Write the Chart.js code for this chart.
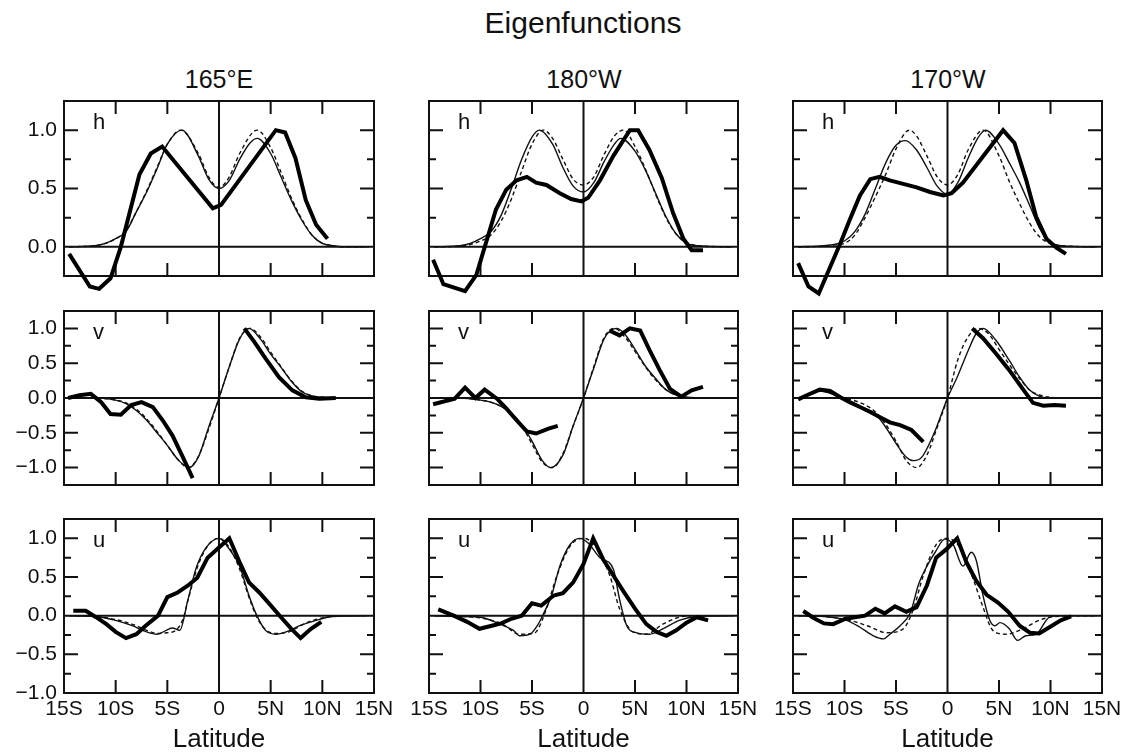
<!DOCTYPE html>
<html>
<head>
<meta charset="utf-8">
<script src="https://cdn.jsdelivr.net/npm/chart.js@4"></script>
<style>
body { margin: 0; background: #fff; width: 1123px; height: 752px; overflow: hidden; position: relative; font-family: "Liberation Sans", Arial, sans-serif; }
canvas { position: absolute; }
.txt { position: absolute; text-align: center; line-height: 1; color: #111; white-space: nowrap; }
</style>
</head>
<body>
<div class="txt" style="left:383px; width:400px; top:8px; font-size:30px;">Eigenfunctions</div>
<div class="txt" style="left:119px; width:200px; top:67px; font-size:25px;">165°E</div>
<div class="txt" style="left:484px; width:200px; top:67px; font-size:25px;">180°W</div>
<div class="txt" style="left:848px; width:200px; top:67px; font-size:25px;">170°W</div>
<script>
// graduations
const xTicks = [-15, -10, -5, 0, 5, 10, 15];
const hTicks = [0, 0.5, 1];
const vuTicks = [-1, -0.5, 0, 0.5, 1];

// h, 165°E
const h165ObsLat = [-14.5, -12.5, -11.6, -10.5, -9.5, -7.7, -6.6, -5.5, -0.6, 0.2, 5.5, 6.4, 7.4, 8.4, 9.4, 10.5];
const h165Obs = [-0.06, -0.34, -0.36, -0.27, 0.0, 0.62, 0.80, 0.86, 0.33, 0.36, 1.0, 0.98, 0.76, 0.40, 0.19, 0.07];
const h165ModLat = [-14.5, -12, -11, -10, -9, -8, -7, -6, -5, -3.6, -2, -1, 0, 1, 2, 3, 3.7, 5, 6, 7, 8, 9, 10, 11, 12, 14.5];
const h165Mod = [0, 0.01, 0.03, 0.07, 0.13, 0.30, 0.47, 0.67, 0.88, 1.0, 0.78, 0.58, 0.50, 0.57, 0.75, 0.89, 0.93, 0.80, 0.60, 0.40, 0.23, 0.10, 0.03, 0.01, 0, 0];
const h165ThyLat = [-14.5, -12, -11, -10, -9, -8, -7, -6, -5, -3.7, -2, -1, 0, 1, 2, 3.7, 5, 6, 7, 8, 9, 10, 11, 12, 14.5];
const h165Thy = [0, 0.01, 0.03, 0.07, 0.14, 0.30, 0.48, 0.68, 0.88, 1.0, 0.80, 0.60, 0.51, 0.60, 0.80, 1.0, 0.85, 0.64, 0.42, 0.24, 0.10, 0.03, 0.01, 0, 0];

// h, 180°W
const h180ObsLat = [-14.6, -13.6, -11.5, -10.4, -8.5, -7.5, -6.5, -5.5, -4.6, -3.6, -2.3, -1.2, -0.2, 0.45, 1.6, 2.9, 4.5, 5.3, 6.4, 7.6, 8.7, 9.7, 10.5, 11.6];
const h180Obs = [-0.11, -0.32, -0.38, -0.24, 0.32, 0.49, 0.57, 0.60, 0.55, 0.53, 0.46, 0.41, 0.39, 0.42, 0.57, 0.78, 1.0, 1.0, 0.83, 0.59, 0.29, 0.07, -0.03, -0.03];
const h180ModLat = [-14.5, -12, -11, -10, -9, -8, -7, -6, -5, -4.3, -3, -2, -1, 0, 1, 2, 3, 3.6, 5, 6, 7, 8, 9, 10, 11, 14.5];
const h180Mod = [0, 0.01, 0.03, 0.07, 0.13, 0.27, 0.50, 0.75, 0.94, 1.0, 0.88, 0.68, 0.52, 0.47, 0.55, 0.73, 0.88, 0.93, 0.82, 0.66, 0.46, 0.26, 0.11, 0.03, 0.01, 0];
const h180ThyLat = [-14.5, -12, -11, -10, -9, -8, -7, -6, -5, -3.9, -3, -2, -1, 0, 1, 2, 3, 3.9, 5, 6, 7, 8, 9, 10, 11, 14.5];
const h180Thy = [0, 0.005, 0.02, 0.05, 0.10, 0.22, 0.41, 0.65, 0.88, 1.0, 0.93, 0.75, 0.58, 0.53, 0.60, 0.79, 0.95, 1.0, 0.86, 0.67, 0.45, 0.25, 0.11, 0.04, 0.01, 0];

// h, 170°W
const h170ObsLat = [-14.5, -13.5, -12.5, -10.4, -9.5, -8.5, -7.5, -6.6, -5.6, -4.3, -3, -1.7, -0.4, 0.4, 1.5, 3.5, 5.4, 6.5, 7.65, 8.6, 9.6, 10.6, 11.5];
const h170Obs = [-0.14, -0.34, -0.40, 0.03, 0.23, 0.44, 0.58, 0.60, 0.57, 0.54, 0.51, 0.47, 0.44, 0.46, 0.55, 0.78, 1.0, 0.89, 0.57, 0.26, 0.07, -0.01, -0.06];
const h170ModLat = [-14.5, -12, -11, -10, -9, -8, -7, -6, -5, -4.1, -3, -2, -1, 0, 1, 2, 3, 3.7, 5, 6, 7, 8, 9, 10, 11, 14.5];
const h170Mod = [0, 0.01, 0.02, 0.05, 0.13, 0.28, 0.50, 0.72, 0.87, 0.91, 0.83, 0.68, 0.52, 0.45, 0.55, 0.76, 0.94, 1.0, 0.88, 0.72, 0.55, 0.35, 0.15, 0.04, 0.01, 0];
const h170ThyLat = [-14.5, -12, -11, -10, -9, -8, -7, -6, -5, -3.7, -3, -2, -1, 0, 1, 2, 3.45, 5, 6, 7, 8, 9, 10, 11, 14.5];
const h170Thy = [0, 0.005, 0.015, 0.03, 0.10, 0.25, 0.43, 0.62, 0.84, 1.0, 0.95, 0.78, 0.60, 0.53, 0.62, 0.83, 1.0, 0.78, 0.56, 0.37, 0.20, 0.08, 0.03, 0.01, 0];

// v, 165°E
const v165ObsLat = [-14.6, -13.5, -12.4, -11.4, -10.5, -9.5, -8.5, -7.5, -6.4, -5.45, -4.5, -3.5, -2.55, 0, 2.45, 3.4, 4.5, 5.8, 7.1, 8.4, 9.7, 11.3];
const v165Obs = [0, 0.04, 0.06, -0.06, -0.23, -0.24, -0.10, -0.06, -0.13, -0.32, -0.54, -0.85, -1.15, null, 1.0, 0.81, 0.57, 0.30, 0.11, 0.01, -0.01, 0];
const v165ModLat = [-14.5, -11.6, -10, -9, -8, -7, -6, -5, -4, -2.9, -2, -1, 0, 1, 2, 2.9, 4, 5, 6, 7, 8, 9, 10, 12, 14.5];
const v165Mod = [0, 0, -0.03, -0.08, -0.18, -0.32, -0.50, -0.68, -0.88, -1.0, -0.85, -0.42, 0, 0.45, 0.85, 1.0, 0.85, 0.63, 0.44, 0.24, 0.09, 0.03, 0.01, 0, 0];
const v165ThyLat = [-14.5, -12, -10, -9, -8, -7, -6, -5, -4, -3, -2, -1, 0, 1, 2, 3, 4, 5, 6, 7, 8, 9, 10, 12, 14.5];
const v165Thy = [0, 0, -0.03, -0.07, -0.16, -0.30, -0.48, -0.68, -0.88, -1.0, -0.84, -0.45, 0, 0.45, 0.86, 1.0, 0.88, 0.66, 0.45, 0.25, 0.10, 0.03, 0.01, 0, 0];

// v, 180°W
const v180ObsLat = [-14.6, -12.5, -11.5, -10.5, -9.6, -8.4, -7.5, -6.5, -5.5, -4.6, -3.4, -2.5, 0, 2.5, 3.5, 4.5, 5.5, 6.4, 7.4, 8.4, 9.5, 10.5, 11.6];
const v180Obs = [-0.09, -0.01, 0.15, 0, 0.12, -0.01, -0.15, -0.32, -0.48, -0.51, -0.44, -0.40, null, 0.97, 0.90, 1.0, 0.97, 0.69, 0.40, 0.13, 0.02, 0.11, 0.16];
const v180ModLat = [-14.5, -12, -10, -9, -8, -7, -6, -5, -4, -3.2, -2, -1, 0, 1, 2, 3.2, 4, 5, 6, 7, 8, 9, 10, 12, 14.5];
const v180Mod = [0, 0, -0.03, -0.06, -0.12, -0.22, -0.38, -0.62, -0.90, -1.0, -0.82, -0.40, 0, 0.43, 0.85, 1.0, 0.92, 0.70, 0.46, 0.28, 0.12, 0.04, 0.01, 0, 0];
const v180ThyLat = [-14.5, -12, -10, -9, -8, -7, -6, -5, -4, -3, -2, -1, 0, 1, 2, 3, 4, 5, 6, 7, 8, 9, 10, 12, 14.5];
const v180Thy = [0, 0, -0.03, -0.06, -0.12, -0.22, -0.40, -0.66, -0.92, -1.0, -0.80, -0.40, 0, 0.45, 0.87, 1.0, 0.88, 0.67, 0.45, 0.26, 0.12, 0.04, 0.01, 0, 0];

// v, 170°W
const v170ObsLat = [-14.5, -13.5, -12.4, -11.4, -10.4, -9.5, -8.5, -7.5, -6.5, -5.6, -4.6, -3.5, -2.35, 0, 2.4, 3.45, 4.7, 6.0, 7.3, 8.3, 9.3, 10.4, 11.5];
const v170Obs = [-0.02, 0.05, 0.12, 0.10, 0.01, -0.06, -0.13, -0.20, -0.28, -0.35, -0.39, -0.46, -0.63, null, 1.0, 0.86, 0.64, 0.40, 0.13, -0.07, -0.11, -0.10, -0.11];
const v170ModLat = [-14.5, -12.4, -10.4, -8.5, -7, -6, -5, -4, -3.3, -2.5, -1.2, 0, 1, 2, 2.8, 3.45, 4.7, 6, 7, 8, 9, 10, 14.5];
const v170Mod = [0, 0.10, 0.01, -0.12, -0.23, -0.42, -0.65, -0.85, -0.90, -0.85, -0.47, 0, 0.32, 0.68, 0.93, 1.0, 0.83, 0.54, 0.30, 0.11, 0.02, 0, 0];
const v170ThyLat = [-14.5, -12, -10, -9, -8, -7, -6, -5, -4, -3, -2, -1, 0, 1, 2, 3, 4, 5, 6, 7, 8, 9, 10, 12, 14.5];
const v170Thy = [0, 0, -0.01, -0.04, -0.10, -0.20, -0.38, -0.62, -0.90, -1.0, -0.82, -0.42, 0, 0.55, 0.88, 1.0, 0.92, 0.70, 0.48, 0.28, 0.11, 0.04, 0.01, 0, 0];

// u, 165°E
const u165ObsLat = [-14.1, -12.9, -11.9, -10.9, -10, -9, -8, -7.1, -5.9, -5, -4, -3, -2.1, -1.1, 0, 1, 2, 2.9, 3.9, 4.9, 6, 7, 7.9, 8.9, 9.9];
const u165Obs = [0.064, 0.064, -0.02, -0.11, -0.21, -0.29, -0.24, -0.13, 0, 0.24, 0.30, 0.39, 0.49, 0.75, 0.88, 1.0, 0.69, 0.43, 0.30, 0.15, -0.02, -0.17, -0.29, -0.17, -0.08];
const u165ModLat = [-14.5, -12, -10, -8.4, -7, -6, -5.1, -4.5, -3.8, -3, -2.2, -1.25, 0, 1, 2, 2.9, 3.6, 4.5, 5.5, 6.5, 7.8, 9.4, 11, 14.5];
const u165Mod = [0, -0.01, -0.06, -0.13, -0.21, -0.24, -0.19, -0.16, -0.19, 0.21, 0.62, 0.88, 1.0, 0.86, 0.64, 0.26, 0.02, -0.19, -0.24, -0.21, -0.13, -0.06, -0.01, 0];
const u165ThyLat = [-14.5, -12, -10, -8, -7, -6, -5, -4.3, -3.5, -3, -2, -1, 0, 1, 2, 3, 3.7, 4.5, 5.5, 6.5, 7.5, 8.5, 10, 12, 14.5];
const u165Thy = [0, -0.01, -0.05, -0.13, -0.19, -0.23, -0.22, -0.20, -0.05, 0.20, 0.66, 0.92, 1.0, 0.88, 0.60, 0.20, -0.03, -0.18, -0.23, -0.22, -0.16, -0.09, -0.03, 0, 0];

// u, 180°W
const u180ObsLat = [-14.1, -12.6, -11.3, -10.1, -8.9, -8, -7, -6, -5, -4.1, -2.9, -2, -1, 0, 0.94, 1.9, 2.9, 3.85, 5, 6.1, 7.1, 8.05, 9, 10, 11, 12.1];
const u180Obs = [0.08, 0, -0.08, -0.17, -0.13, -0.10, -0.04, 0, 0.16, 0.13, 0.26, 0.29, 0.43, 0.67, 1.0, 0.73, 0.52, 0.32, 0.09, -0.11, -0.21, -0.26, -0.19, -0.09, -0.02, -0.06];
const u180ModLat = [-14.5, -12, -10, -8.1, -6.8, -6.2, -5.2, -4.4, -3.9, -3.1, -2.3, -1.3, -0.36, 0.45, 1.6, 2.9, 3.5, 4.2, 5.1, 6.4, 7.7, 9.3, 11, 14.5];
const u180Mod = [0, -0.01, -0.02, -0.11, -0.19, -0.26, -0.24, -0.11, 0.02, 0.26, 0.64, 0.92, 1.0, 0.94, 0.75, 0.60, 0.21, -0.13, -0.22, -0.24, -0.17, -0.06, -0.01, 0];
const u180ThyLat = [-14.5, -12, -10, -8, -6.2, -5, -4.6, -3.6, -2.6, -1.3, 0, 1.26, 2.55, 3.5, 4.8, 6.1, 7.7, 9.3, 11, 14.5];
const u180Thy = [0, -0.01, -0.03, -0.10, -0.24, -0.23, -0.21, 0.09, 0.51, 0.90, 1.0, 0.88, 0.52, 0.09, -0.21, -0.24, -0.11, -0.02, 0, 0];

// u, 170°W
const u170ObsLat = [-14, -13, -12, -11.1, -9.9, -9, -8, -7, -6.1, -5.1, -4, -3, -2, -1.1, -0.1, 0.94, 1.84, 2.8, 3.8, 4.9, 5.9, 7, 8, 8.9, 9.9, 11, 12];
const u170Obs = [0.06, -0.03, -0.10, -0.11, -0.04, -0.02, 0, 0.09, 0.03, 0.12, 0.05, 0.11, 0.39, 0.75, 0.86, 1.0, 0.69, 0.45, 0.27, 0.17, 0.05, -0.13, -0.22, -0.23, -0.15, -0.06, -0.01];
const u170ModLat = [-14.5, -12, -9.8, -8.5, -7.2, -6.2, -5.6, -4.6, -3.6, -2.8, -2, -1.2, -0.26, 0.55, 1.5, 2.3, 2.8, 3.45, 4.1, 4.6, 5.1, 6, 6.8, 7.6, 8.6, 9.9, 11, 14.5];
const u170Mod = [0, -0.01, -0.06, -0.15, -0.26, -0.30, -0.24, -0.13, 0.04, 0.41, 0.64, 0.82, 0.99, 0.92, 0.64, 0.82, 0.71, 0.26, -0.06, -0.13, -0.09, -0.17, -0.32, -0.26, -0.24, -0.02, 0, 0];
const u170ThyLat = [-14.5, -12, -9.5, -7.8, -5.9, -4.3, -3.3, -2.35, -1.1, 0, 1.2, 2.5, 3.45, 4.4, 5.7, 7.3, 8.9, 10.5, 14.5];
const u170Thy = [0, -0.01, -0.06, -0.13, -0.22, -0.17, 0.09, 0.52, 0.92, 1.0, 0.88, 0.47, 0.11, -0.19, -0.24, -0.17, -0.06, -0.01, 0];

// mise en page des panneaux
const colLeft = [64, 429, 793];
const colWidth = [310, 309, 309];
const rowTop = [101, 311, 519];
const rowHeight = [175, 174, 174];
const margeDroite = 30;
const rows = [
	{ lettre: "h", min: -0.25, max: 1.25, ticks: hTicks },
	{ lettre: "v", min: -1.25, max: 1.25, ticks: vuTicks },
	{ lettre: "u", min: -1, max: 1.25, ticks: vuTicks },
];
const panneaux = [
	[[h165ObsLat, h165Obs], [h165ModLat, h165Mod], [h165ThyLat, h165Thy]],
	[[h180ObsLat, h180Obs], [h180ModLat, h180Mod], [h180ThyLat, h180Thy]],
	[[h170ObsLat, h170Obs], [h170ModLat, h170Mod], [h170ThyLat, h170Thy]],
	[[v165ObsLat, v165Obs], [v165ModLat, v165Mod], [v165ThyLat, v165Thy]],
	[[v180ObsLat, v180Obs], [v180ModLat, v180Mod], [v180ThyLat, v180Thy]],
	[[v170ObsLat, v170Obs], [v170ModLat, v170Mod], [v170ThyLat, v170Thy]],
	[[u165ObsLat, u165Obs], [u165ModLat, u165Mod], [u165ThyLat, u165Thy]],
	[[u180ObsLat, u180Obs], [u180ModLat, u180Mod], [u180ThyLat, u180Thy]],
	[[u170ObsLat, u170Obs], [u170ModLat, u170Mod], [u170ThyLat, u170Thy]],
];

function points(lat, val) {
	return lat.map((x, i) => ({ x: x, y: val[i] }));
}

function texteLat(v) {
	if (v === 0) return "0";
	return Math.abs(v) + (v < 0 ? "S" : "N");
}

function texteVal(v) {
	return (v < 0 ? "\u2212" : "") + Math.abs(v).toFixed(1);
}

// cadre, lignes du zéro, graduations intérieures et lettre du panneau
const cadre = {
	id: "cadre",
	beforeDatasetsDraw(chart, args, opts) {
		const { ctx, chartArea: a, scales: { x, y } } = chart;
		ctx.save();
		ctx.strokeStyle = "#111";
		ctx.lineWidth = 2;
		ctx.strokeRect(a.left, a.top, a.right - a.left, a.bottom - a.top);
		const x0 = x.getPixelForValue(0);
		const y0 = y.getPixelForValue(0);
		ctx.beginPath();
		ctx.moveTo(a.left, y0);
		ctx.lineTo(a.right, y0);
		ctx.moveTo(x0, a.top);
		ctx.lineTo(x0, a.bottom);
		for (const v of [-10, -5, 5, 10]) {
			const px = x.getPixelForValue(v);
			ctx.moveTo(px, a.top);
			ctx.lineTo(px, a.top + 13);
			ctx.moveTo(px, a.bottom);
			ctx.lineTo(px, a.bottom - 13);
		}
		for (let v = y.min + 0.25; v < y.max; v += 0.25) {
			if (v === 0) continue;
			const py = y.getPixelForValue(v);
			const len = (v * 2) % 1 === 0 ? 14 : 7;
			ctx.moveTo(a.left, py);
			ctx.lineTo(a.left + len, py);
			ctx.moveTo(a.right, py);
			ctx.lineTo(a.right - len, py);
		}
		ctx.stroke();
		ctx.fillStyle = "#111";
		ctx.font = "22px 'Liberation Sans'";
		ctx.fillText(opts.lettre, a.left + 29, a.top + 28);
		ctx.restore();
	}
};

panneaux.forEach(function (series, n) {
	const r = Math.floor(n / 3);
	const c = n % 3;
	const row = rows[r];
	const bas = r === 2;
	const canvas = document.createElement("canvas");
	canvas.width = 64 + colWidth[c] + margeDroite;
	canvas.height = 12 + rowHeight[r] + 62;
	canvas.style.left = (colLeft[c] - 64) + "px";
	canvas.style.top = (rowTop[r] - 12) + "px";
	document.body.appendChild(canvas);

	const [obs, mod, thy] = series;
	new Chart(canvas, {
		type: "line",
		data: {
			datasets: [
				{ data: points(obs[0], obs[1]), borderColor: "#000", borderWidth: 4, tension: 0, spanGaps: false, clip: false },
				{ data: points(mod[0], mod[1]), borderColor: "#111", borderWidth: 1.4, cubicInterpolationMode: "monotone", clip: false },
				{ data: points(thy[0], thy[1]), borderColor: "#111", borderWidth: 1.4, borderDash: [4, 3], cubicInterpolationMode: "monotone", clip: false },
			]
		},
		options: {
			responsive: false,
			animation: false,
			elements: { point: { radius: 0 } },
			layout: { padding: { left: 0, right: margeDroite, top: 12, bottom: 0 } },
			plugins: {
				legend: { display: false },
				tooltip: { enabled: false },
				cadre: { lettre: row.lettre },
			},
			scales: {
				x: {
					type: "linear",
					min: -15,
					max: 15,
					afterBuildTicks: (s) => { s.ticks = xTicks.map(v => ({ value: v })); },
					afterFit: (s) => { s.height = 62; s.paddingLeft = 0; s.paddingRight = 0; },
					grid: { display: false, drawTicks: false },
					border: { display: false },
					ticks: {
						display: bas,
						autoSkip: false,
						maxRotation: 0,
						padding: 4,
						color: "#111",
						font: { family: "Liberation Sans", size: 21 },
						callback: texteLat,
					},
					title: {
						display: bas,
						text: "Latitude",
						color: "#111",
						padding: { top: 0, bottom: 0 },
						font: { family: "Liberation Sans", size: 26 },
					},
				},
				y: {
					min: row.min,
					max: row.max,
					afterBuildTicks: (s) => { s.ticks = row.ticks.map(v => ({ value: v })); },
					afterFit: (s) => { s.width = 64; s.paddingTop = 0; s.paddingBottom = 0; },
					grid: { display: false, drawTicks: false },
					border: { display: false },
					ticks: {
						display: c === 0,
						autoSkip: false,
						padding: 7,
						color: "#111",
						font: { family: "Liberation Sans", size: 21 },
						callback: texteVal,
					},
				},
			},
		},
		plugins: [cadre],
	});
});
</script>
</body>
</html>
